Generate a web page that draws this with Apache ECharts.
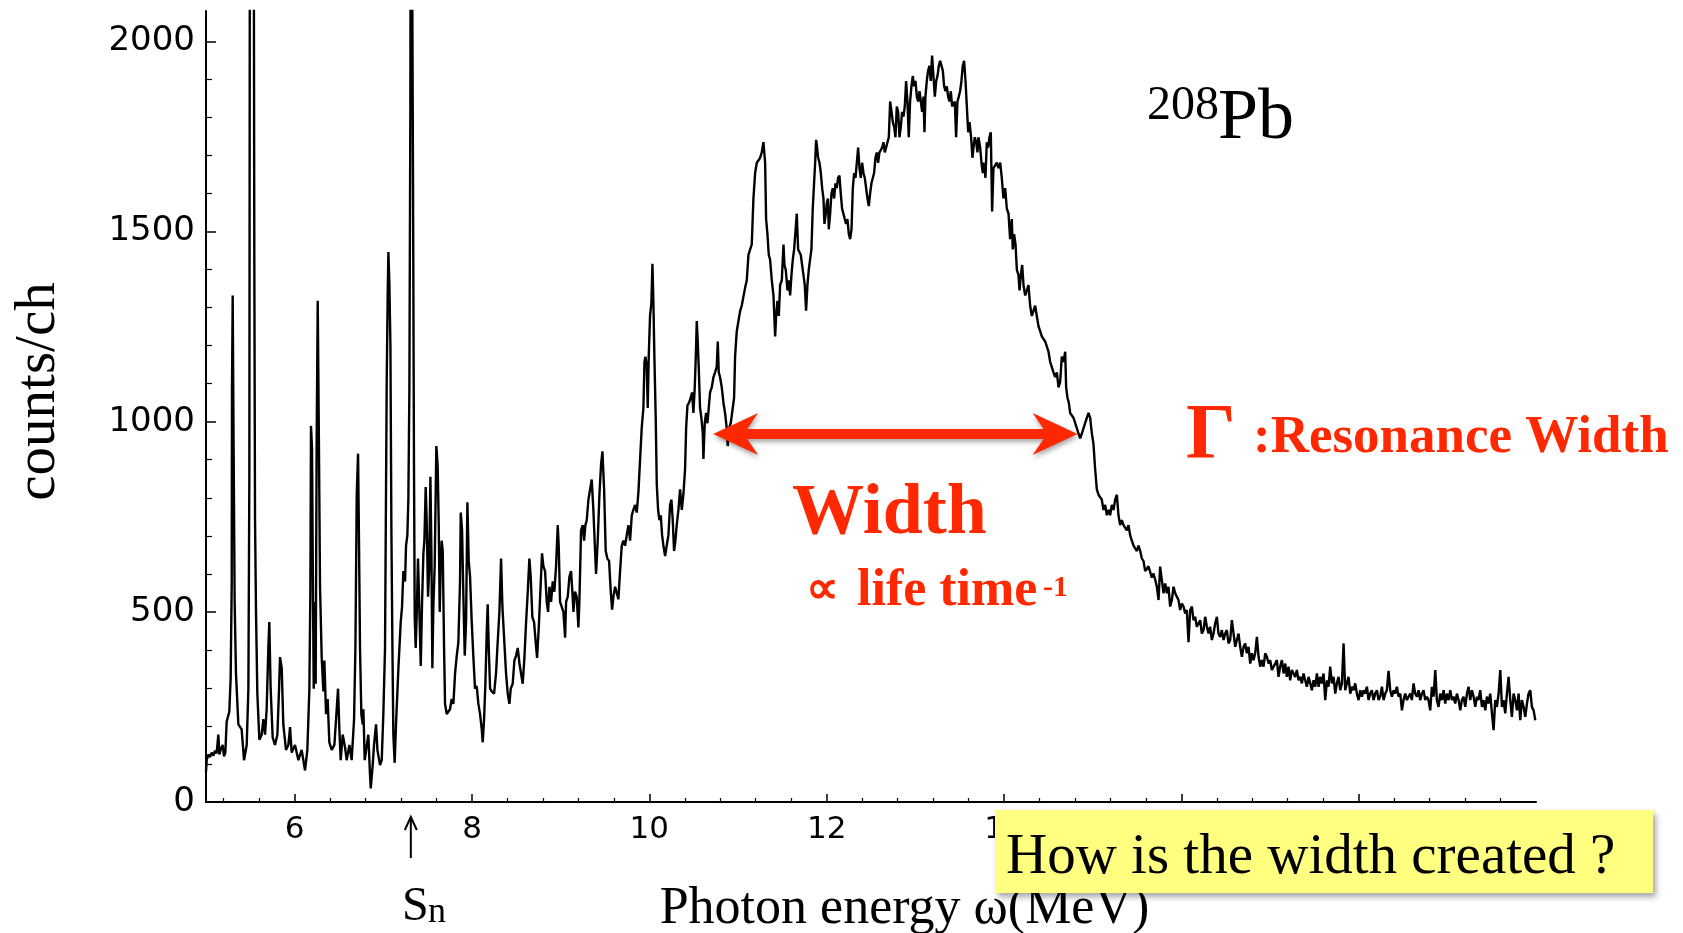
<!DOCTYPE html>
<html><head><meta charset="utf-8">
<script src="https://cdn.jsdelivr.net/npm/echarts@6/dist/echarts.min.js"></script>
<style>html,body{margin:0;padding:0;background:#fff}#chart{width:1683px;height:933px}</style>
</head><body><div id="chart"></div>
<script>
// ---------- data (photon energy MeV, counts/ch) ----------
const lowEnergy = [
[5.000,80],[5.008,110],[5.026,125],[5.045,118],[5.064,130],[5.083,122],[5.102,135],[5.120,128],[5.139,177],[5.151,125],[5.169,140],[5.188,150],[5.203,120],[5.218,130],[5.233,211],[5.263,238],[5.278,325],[5.290,573],[5.293,1083],[5.301,1332],[5.312,916],[5.323,526],[5.338,338],[5.365,204],[5.402,191],[5.429,110],[5.459,150],[5.478,298],[5.489,862],[5.497,3000],[5.534,3000],[5.545,1426],[5.553,741],[5.564,500],[5.579,285],[5.602,164],[5.628,177],[5.647,218],[5.666,177],[5.684,244],[5.703,405],[5.714,473],[5.729,298],[5.752,170],[5.778,150],[5.805,177],[5.824,298],[5.835,381],[5.854,352],[5.872,204],[5.902,137],[5.929,150],[5.948,197],[5.966,130],[6.004,150],[6.042,110],[6.079,137],[6.117,83],[6.143,137],[6.166,298],[6.177,553],[6.184,989],[6.196,929],[6.207,526],[6.215,298],[6.226,526],[6.237,311],[6.248,949],[6.260,1318],[6.271,1016],[6.286,566],[6.305,379],[6.324,291],[6.335,372],[6.354,231],[6.372,271],[6.391,157],[6.418,137],[6.448,150],[6.474,244],[6.489,298],[6.504,191],[6.519,110],[6.542,177],[6.568,144],[6.587,110],[6.617,150],[6.643,110],[6.670,218],[6.685,405],[6.700,808],[6.715,916],[6.726,674],[6.737,405],[6.752,231],[6.767,204],[6.775,244],[6.790,110],[6.812,110],[6.831,177],[6.850,70],[6.858,36],[6.880,97],[6.895,150],[6.918,204],[6.933,137],[6.963,97],[6.982,110],[7.000,231],[7.019,405],[7.038,1104],[7.049,1332],[7.057,1446],[7.068,1365],[7.080,1198],[7.091,714],[7.102,419]
];
const neutronThreshold = [
[7.113,177],[7.128,103],[7.143,204],[7.170,352],[7.196,473],[7.211,513],[7.226,607],[7.245,580],[7.256,674],[7.271,701],[7.282,795],[7.294,1090],[7.305,1842],[7.312,3000],[7.328,3000],[7.335,1614],[7.346,875],[7.354,486],[7.365,405],[7.376,486],[7.391,640],[7.407,500],[7.422,358],[7.437,526],[7.452,654],[7.463,687],[7.478,828],[7.489,741],[7.504,540],[7.516,607],[7.531,855],[7.542,660],[7.553,352],[7.564,513],[7.579,620],[7.598,936],[7.613,882],[7.625,728],[7.636,500],[7.647,620],[7.658,687],[7.670,660],[7.685,405],[7.696,258],[7.715,231],[7.734,238],[7.752,244],[7.771,271],[7.790,258],[7.809,338],[7.828,385],[7.846,419],[7.865,580],[7.873,761],[7.888,714],[7.903,540],[7.918,385],[7.933,473],[7.948,788],[7.963,634],[7.978,593],[7.997,473],[8.016,379],[8.034,298],[8.053,305],[8.072,258],[8.091,231],[8.110,191],[8.121,157],[8.136,218],[8.151,311],[8.166,446],[8.177,520],[8.189,405],[8.204,298],[8.222,291],[8.249,285],[8.271,338],[8.286,405],[8.309,500],[8.328,640],[8.343,513],[8.362,432],[8.384,338],[8.403,285],[8.422,258],[8.437,298],[8.459,311],[8.478,372],[8.497,385],[8.516,405],[8.535,365],[8.553,338],[8.572,311],[8.591,379],[8.610,473],[8.629,553],[8.647,640],[8.662,593],[8.681,486],[8.700,473],[8.719,419],[8.734,379],[8.753,459],[8.771,553],[8.790,654],[8.805,620],[8.824,607],[8.843,526],[8.858,500],[8.873,566],[8.892,526],[8.911,580],[8.929,553],[8.948,620],[8.967,728],[8.978,674],[8.993,526],[9.012,513],[9.031,500],[9.050,432],[9.061,526],[9.080,540],[9.099,593],[9.117,607],[9.132,553],[9.144,500],[9.162,553],[9.181,540],[9.200,459],[9.211,526]
];
const gdrRise = [
[9.230,714],[9.249,728],[9.264,687],[9.279,728],[9.294,741],[9.313,795],[9.332,822],[9.350,848],[9.369,768],[9.388,660],[9.399,600],[9.418,687],[9.437,808],[9.456,889],[9.471,922],[9.490,822],[9.508,660],[9.527,640],[9.546,634],[9.565,553],[9.580,506],[9.595,540],[9.614,566],[9.632,566],[9.651,533],[9.670,607],[9.689,674],[9.708,687],[9.726,674],[9.745,701],[9.764,728],[9.783,687],[9.802,754],[9.820,768],[9.839,781],[9.858,761],[9.877,815],[9.896,902],[9.914,983],[9.933,1036],[9.945,1157],[9.956,1171],[9.971,1144],[9.982,1036],[9.993,1171],[10.008,1278],[10.023,1312],[10.035,1415],[10.046,1312],[10.057,1171],[10.072,1010],[10.084,835],[10.099,768],[10.114,741],[10.129,754],[10.144,701],[10.159,674],[10.178,647],[10.196,674],[10.215,701],[10.234,781],[10.249,795],[10.264,741],[10.279,660],[10.294,687],[10.309,728],[10.328,768],[10.347,822],[10.366,768],[10.384,808],[10.403,875],[10.415,983],[10.430,1043],[10.448,1050],[10.467,1063],[10.482,1077],[10.497,1023],[10.512,1090],[10.524,1171],[10.535,1265],[10.546,1211],[10.557,1144],[10.572,1036],[10.587,1010],[10.603,969],[10.610,902],[10.625,996],[10.640,1023],[10.655,996],[10.670,1036],[10.685,1077],[10.704,1090],[10.723,1117],[10.742,1130],[10.760,1144],[10.772,1211],[10.783,1130],[10.798,1117],[10.817,1090],[10.836,1050],[10.854,1023],[10.873,983],[10.884,936],[10.900,983],[10.918,996],[10.937,996],[10.956,1063],[10.967,1171],[10.986,1238],[11.005,1265],[11.024,1291],[11.042,1305],[11.061,1305],[11.080,1352],[11.099,1372],[11.118,1439],[11.137,1453],[11.155,1466],[11.174,1587],[11.193,1654],[11.212,1681],[11.230,1681],[11.249,1694],[11.268,1708],[11.287,1735],[11.306,1681],[11.317,1533],[11.332,1493],[11.347,1439],[11.362,1426]
];
const gdrPeak = [
[11.381,1372],[11.400,1332],[11.419,1224],[11.430,1278],[11.445,1318],[11.460,1278],[11.475,1359],[11.494,1372],[11.513,1466],[11.524,1412],[11.539,1399],[11.558,1345],[11.573,1372],[11.588,1332],[11.603,1386],[11.618,1426],[11.633,1453],[11.648,1453],[11.663,1547],[11.678,1453],[11.693,1453],[11.708,1439],[11.723,1412],[11.738,1386],[11.753,1359],[11.768,1292],[11.783,1359],[11.798,1399],[11.813,1426],[11.828,1453],[11.843,1560],[11.858,1627],[11.870,1681],[11.881,1741],[11.892,1721],[11.904,1694],[11.919,1681],[11.934,1654],[11.949,1614],[11.964,1587],[11.975,1520],[11.990,1547],[12.001,1574],[12.013,1587],[12.024,1506],[12.039,1547],[12.054,1600],[12.069,1614],[12.084,1587],[12.099,1627],[12.114,1614],[12.129,1641],[12.144,1647],[12.159,1600],[12.174,1560],[12.189,1547],[12.204,1533],[12.219,1520],[12.234,1533],[12.250,1493],[12.265,1480],[12.280,1506],[12.295,1614],[12.310,1654],[12.325,1641],[12.340,1681],[12.355,1721],[12.370,1667],[12.385,1641],[12.400,1681],[12.415,1654],[12.430,1641],[12.445,1614],[12.460,1587],[12.475,1567],[12.490,1600],[12.505,1627],[12.520,1627],[12.535,1654],[12.550,1694],[12.565,1708],[12.580,1681],[12.595,1708],[12.610,1714],[12.626,1721],[12.641,1735],[12.656,1708],[12.671,1708],[12.686,1735],[12.701,1748],[12.716,1842],[12.731,1815],[12.746,1788],[12.761,1775],[12.776,1748],[12.791,1829],[12.806,1815],[12.821,1748],[12.836,1775],[12.851,1815],[12.866,1802],[12.881,1829],[12.896,1896],[12.911,1842],[12.926,1748],[12.941,1842],[12.956,1882],[12.971,1909],[12.987,1882],[13.002,1896],[13.017,1855],[13.032,1842],[13.047,1869],[13.062,1842],[13.077,1815],[13.092,1855],[13.103,1761],[13.114,1855],[13.129,1896],[13.144,1923],[13.159,1936],[13.174,1896],[13.189,1963],[13.204,1909],[13.220,1855],[13.235,1896],[13.250,1909],[13.265,1936],[13.280,1949],[13.295,1936],[13.310,1923],[13.325,1882],[13.340,1869],[13.355,1882],[13.370,1855],[13.385,1842],[13.400,1869],[13.415,1829],[13.430,1829],[13.445,1842],[13.460,1748],[13.475,1842],[13.490,1855],[13.505,1869],[13.520,1896],[13.535,1936],[13.550,1949],[13.566,1896],[13.581,1829],[13.596,1761],[13.611,1788]
];
const gdrFall = [
[13.629,1748],[13.644,1694],[13.656,1721],[13.671,1748],[13.686,1735],[13.701,1708],[13.712,1748],[13.731,1721],[13.746,1681],[13.761,1654],[13.776,1681],[13.791,1641],[13.806,1735],[13.821,1721],[13.836,1748],[13.851,1761],[13.866,1553],[13.881,1667],[13.900,1667],[13.919,1681],[13.938,1667],[13.957,1681],[13.975,1641],[13.994,1587],[14.013,1614],[14.032,1560],[14.051,1547],[14.069,1480],[14.088,1533],[14.099,1453],[14.114,1493],[14.130,1466],[14.145,1399],[14.163,1386],[14.175,1345],[14.190,1386],[14.205,1412],[14.220,1359],[14.239,1332],[14.257,1345],[14.276,1359],[14.295,1305],[14.314,1278],[14.333,1292],[14.351,1305],[14.370,1278],[14.389,1251],[14.408,1238],[14.427,1224],[14.445,1224],[14.464,1211],[14.483,1198],[14.502,1184],[14.521,1157],[14.539,1144],[14.558,1130],[14.577,1117],[14.596,1130],[14.615,1090],[14.633,1104],[14.652,1171],[14.671,1157],[14.690,1184],[14.701,1090],[14.716,1063],[14.731,1050],[14.746,1023],[14.765,1023],[14.784,1010],[14.803,996],[14.821,983],[14.840,969],[14.859,956],[14.878,969],[14.897,983],[14.915,996],[14.934,1010],[14.953,1023],[14.972,1010],[14.991,969],[15.009,942],[15.028,875],[15.047,822],[15.066,808],[15.085,808],[15.103,795],[15.122,768],[15.141,781],[15.160,754],[15.179,768],[15.197,754],[15.216,781],[15.235,768],[15.254,795],[15.273,808],[15.291,754],[15.310,728],[15.329,741],[15.348,728],[15.367,728],[15.385,714],[15.404,728],[15.423,701],[15.442,687],[15.461,674],[15.480,674],[15.498,660],[15.517,674],[15.536,660],[15.555,640],[15.573,634],[15.592,607],[15.611,607],[15.630,620]
];
const tail = [
[15.649,619],[15.667,590],[15.686,601],[15.705,585],[15.724,566],[15.743,531],[15.761,619],[15.780,584],[15.799,549],[15.818,575],
[15.837,549],[15.855,566],[15.874,514],[15.893,531],[15.912,566],[15.931,549],[15.949,540],[15.968,531],[15.987,505],[16.006,522],
[16.025,514],[16.043,496],[16.062,505],[16.081,420],[16.100,505],[16.119,514],[16.137,478],[16.156,487],[16.175,461],[16.194,470],
[16.213,478],[16.231,443],[16.250,452],[16.269,487],[16.288,461],[16.307,443],[16.325,461],[16.344,426],[16.363,443],[16.382,470],
[16.401,487],[16.419,443],[16.438,434],[16.457,452],[16.476,426],[16.495,443],[16.513,452],[16.532,417],[16.551,426],[16.570,478],
[16.589,443],[16.608,408],[16.626,426],[16.645,443],[16.664,408],[16.683,382],[16.702,408],[16.720,417],[16.739,391],[16.758,408],
[16.777,364],[16.796,391],[16.814,373],[16.833,391],[16.852,434],[16.871,382],[16.890,356],[16.908,373],[16.927,356],[16.946,391],
[16.965,382],[16.984,364],[17.002,373],[17.021,347],[17.040,356],[17.059,364],[17.078,373],[17.096,329],[17.115,356],[17.134,373],
[17.153,338],[17.172,364],[17.190,329],[17.209,356],[17.228,320],[17.247,347],[17.266,338],[17.284,329],[17.303,347],[17.322,320],
[17.341,329],[17.360,312],[17.378,338],[17.397,320],[17.416,303],[17.435,329],[17.454,312],[17.472,294],[17.491,320],[17.510,303],
[17.529,338],[17.548,303],[17.566,329],[17.585,312],[17.604,338],[17.623,268],[17.642,320],[17.660,303],[17.679,356],[17.698,312],
[17.717,329],[17.736,285],[17.754,312],[17.773,329],[17.792,294],[17.811,312],[17.830,417],[17.848,294],[17.867,312],[17.886,329],
[17.905,285],[17.924,303],[17.942,294],[17.961,312],[17.980,285],[17.999,268],[18.018,294],[18.036,277],[18.055,294],[18.074,285],
[18.093,303],[18.112,268],[18.130,285],[18.149,294],[18.168,268],[18.187,285],[18.206,294],[18.224,268],[18.243,277],[18.262,303],
[18.281,268],[18.300,285],[18.318,294],[18.337,345],[18.356,294],[18.375,277],[18.394,294],[18.412,285],[18.431,303],[18.450,277],
[18.469,285],[18.488,241],[18.506,268],[18.525,285],[18.544,268],[18.563,277],[18.582,285],[18.600,268],[18.619,312],[18.638,285],
[18.657,277],[18.676,294],[18.694,268],[18.713,285],[18.732,294],[18.751,268],[18.770,277],[18.788,268],[18.807,241],[18.826,303],
[18.845,277],[18.864,347],[18.882,268],[18.901,250],[18.920,285],[18.939,268],[18.958,294],[18.976,259],[18.995,285],[19.014,268],
[19.033,294],[19.052,268],[19.070,277],[19.089,259],[19.108,285],[19.127,268],[19.146,241],[19.164,268],[19.183,277],[19.202,250],
[19.221,285],[19.240,303],[19.258,268],[19.277,294],[19.296,277],[19.315,250],[19.334,277],[19.352,268],[19.371,294],[19.390,250],
[19.409,268],[19.428,241],[19.446,277],[19.465,259],[19.484,285],[19.503,233],[19.522,189],[19.540,268],[19.559,250],[19.578,285],
[19.597,347],[19.616,250],[19.634,268],[19.653,233],[19.672,285],[19.691,329],[19.710,268],[19.728,224],[19.747,285],[19.766,268],
[19.785,241],[19.804,285],[19.822,215],[19.841,268],[19.860,250],[19.879,224],[19.898,259],[19.916,285],[19.935,294],[19.954,250],
[19.973,241],[19.992,215]
];
// axis ticks / labels
const xMajorTicks = [6, 8, 10, 12, 14, 16, 18];
const xMinorTicks = [5.2, 5.6, 6.4, 6.8, 7.2, 7.6, 8.4, 8.8, 9.2, 9.6, 10.4, 10.8, 11.2, 11.6, 12.4, 12.8, 13.2, 13.6, 14.4, 14.8, 15.2, 15.6, 16.4, 16.8, 17.2, 17.6, 18.4, 18.8, 19.2, 19.6];
const yMajorTicks = [0, 500, 1000, 1500, 2000];
const yMinorTicks = [100, 200, 300, 400, 600, 700, 800, 900, 1100, 1200, 1300, 1400, 1600, 1700, 1800, 1900];
// annotation anchors (data coordinates)
const widthArrow = {from: 10.72, to: 14.83, level: 968};
const separationEnergy = 7.31;

const spectrum = [].concat(lowEnergy, neutronThreshold, gdrRise, gdrPeak, gdrFall, tail);

const SERIF = '"Liberation Serif", "Times New Roman", serif';
const SANS = '"DejaVu Sans", sans-serif';
const RED = '#ff2800';

const chart = echarts.init(document.getElementById('chart'), null, {renderer: 'canvas'});
const option = {
  animation: false,
  backgroundColor: '#ffffff',
  grid: {left: 206, right: 147, top: 11, bottom: 131, containLabel: false, outerBoundsMode: 'none'},
  xAxis: [
    {
      type: 'value', min: 5, max: 20, position: 'bottom',
      name: 'Photon energy ω(MeV)', nameLocation: 'middle', nameGap: 81,
      nameTextStyle: {fontFamily: SERIF, fontSize: 52, color: '#000', padding: [0, 0, 0, 67]},
      axisLine: {show: true, onZero: false, lineStyle: {color: '#000', width: 2}},
      axisTick: {show: true, inside: true, length: 8, customValues: xMajorTicks, lineStyle: {color: '#000', width: 1.5}},
      axisLabel: {show: true, customValues: xMajorTicks, margin: 12, fontFamily: SANS, fontSize: 31, color: '#000',
                  formatter: function (v) { return String(v); }},
      splitLine: {show: false}
    },
    {
      type: 'value', min: 5, max: 20, position: 'bottom',
      axisLine: {show: false, onZero: false},
      axisTick: {show: true, inside: true, length: 4, customValues: xMinorTicks, lineStyle: {color: '#000', width: 1.2}},
      axisLabel: {show: false}, splitLine: {show: false}
    }
  ],
  yAxis: [
    {
      type: 'value', min: 0, max: 2080, position: 'left',
      name: 'counts/ch', nameLocation: 'middle', nameRotate: 90, nameGap: 138,
      nameTextStyle: {fontFamily: SERIF, fontSize: 57, color: '#000', padding: [0, 0, 0, 30]},
      axisLine: {show: true, onZero: false, lineStyle: {color: '#000', width: 2}},
      axisTick: {show: true, inside: true, length: 10, customValues: yMajorTicks, lineStyle: {color: '#000', width: 1.5}},
      axisLabel: {show: true, customValues: yMajorTicks, margin: 11, fontFamily: SANS, fontSize: 34, color: '#000',
                  padding: [0, 0, 12, 0], formatter: function (v) { return String(v); }},
      splitLine: {show: false}
    },
    {
      type: 'value', min: 0, max: 2080, position: 'left',
      axisLine: {show: false, onZero: false},
      axisTick: {show: true, inside: true, length: 6, customValues: yMinorTicks, lineStyle: {color: '#000', width: 1.2}},
      axisLabel: {show: false}, splitLine: {show: false}
    }
  ],
  series: [{
    type: 'line', name: '208Pb', data: spectrum, xAxisIndex: 0, yAxisIndex: 0,
    showSymbol: false, symbol: 'none', clip: true,
    lineStyle: {color: '#000', width: 2.4}, z: 3
  }]
};
chart.setOption(option);

function txt(text, x, y, font, fill) {
  return {
    type: 'text', x: x, y: y, z: 101,
    style: {text: text, font: font, fill: fill, align: 'left', textAlign: 'left', verticalAlign: 'middle', textVerticalAlign: 'middle'}
  };
}

const pL = chart.convertToPixel({gridIndex: 0}, [widthArrow.from, widthArrow.level]);
const pR = chart.convertToPixel({gridIndex: 0}, [widthArrow.to, widthArrow.level]);
const ay = pL[1], xl = pL[0], xr = pR[0];
const headLen = 45, headHalf = 21, notch = 11, shaftHalf = 5;
const arrowPts = [
  [xl, ay], [xl + headLen, ay - headHalf], [xl + headLen - notch, ay - shaftHalf],
  [xr - headLen + notch, ay - shaftHalf], [xr - headLen, ay - headHalf], [xr, ay],
  [xr - headLen, ay + headHalf], [xr - headLen + notch, ay + shaftHalf],
  [xl + headLen - notch, ay + shaftHalf], [xl + headLen, ay + headHalf]
];
const snX = chart.convertToPixel({gridIndex: 0}, [separationEnergy, 0])[0];

const graphics = [
  {type: 'polygon', z: 100, shape: {points: arrowPts},
   style: {fill: RED, shadowBlur: 5, shadowOffsetX: 1, shadowOffsetY: 3, shadowColor: 'rgba(0,0,0,0.35)'}},
  txt('208', 1147, 106, '48px ' + SERIF, '#000'),
  txt('Pb', 1218, 119, '72px ' + SERIF, '#000'),
  txt('Γ', 1186, 437, 'bold 78px ' + SERIF, RED),
  txt(':Resonance Width', 1253, 438, 'bold 53px ' + SERIF, RED),
  txt('Width', 792, 514, 'bold 72px ' + SERIF, RED),
  txt('∝', 806, 591, 'bold 46px ' + SERIF, RED),
  txt('life time', 857, 591.5, 'bold 52px ' + SERIF, RED),
  txt('-1', 1043, 588, 'bold 30px ' + SERIF, RED),
  {type: 'polyline', z: 100, shape: {points: [[snX, 858], [snX, 819]]}, style: {stroke: '#000', lineWidth: 2, fill: null}},
  {type: 'polyline', z: 100, shape: {points: [[snX - 6, 830], [snX, 817], [snX + 6, 830]]}, style: {stroke: '#000', lineWidth: 2, fill: null}},
  txt('S', 402, 907, '48px ' + SERIF, '#000'),
  txt('n', 428, 913, '36px ' + SERIF, '#000'),
  {type: 'rect', z: 100, shape: {x: 995, y: 810, width: 658, height: 83},
   style: {fill: '#ffff80', shadowBlur: 6, shadowOffsetX: 3, shadowOffsetY: 4, shadowColor: 'rgba(0,0,0,0.35)'}},
  txt('How is the width created ?', 1006, 858, '57px ' + SERIF, '#000')
];
chart.setOption({graphic: {elements: graphics}});
</script>
</body></html>
